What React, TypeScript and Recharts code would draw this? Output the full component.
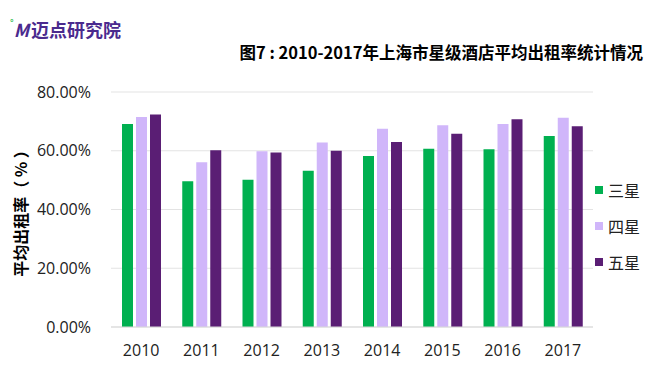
import React from 'react';
import { BarChart, Bar, XAxis, YAxis, CartesianGrid } from 'recharts';

const years = ['2010', '2011', '2012', '2013', '2014', '2015', '2016', '2017'];
const threeStar = [69.1, 49.6, 50.1, 53.2, 58.2, 60.7, 60.5, 65.0];
const fourStar = [71.5, 56.1, 59.8, 62.8, 67.5, 68.7, 69.1, 71.2];
const fiveStar = [72.3, 60.2, 59.4, 60.0, 63.0, 65.8, 70.7, 68.3];
const yTicks = [0, 20, 40, 60, 80];

const seriesNames = ['三星', '四星', '五星'];
const seriesColors = ['#00B050', '#D0B6FA', '#5A1E74'];

const data = years.map((y, i) => ({
  year: y,
  s3: threeStar[i],
  s4: fourStar[i],
  s5: fiveStar[i],
}));
const keys = ['s3', 's4', 's5'];

const font = '"Open Sans", "Noto Sans CJK SC", sans-serif';
const cjk = '"Noto Sans CJK SC", sans-serif';

export default function App() {
  return (
    <div style={{ position: 'relative', width: 650, height: 365, background: '#fff', fontFamily: font }}>
      <style>{'body{margin:0}'}</style>
      <div style={{ position: 'absolute', left: 10, top: 16, fontFamily: cjk, fontWeight: 700, fontSize: 18, color: '#4a2a8e', letterSpacing: 0 }}>
        <span style={{ color: '#3fbf5a', fontSize: 9, verticalAlign: 'top' }}>°</span>
        <span style={{ fontStyle: 'italic', marginRight: 2 }}>M</span>
        <span>迈点研究院</span>
      </div>
      <div style={{ position: 'absolute', right: 7, top: 40, fontFamily: cjk, fontWeight: 700, fontSize: 16.5, color: '#000', whiteSpace: 'nowrap' }}>
        图7 : 2010-2017年上海市星级酒店平均出租率统计情况
      </div>
      <BarChart
        width={650}
        height={365}
        data={data}
        margin={{ top: 92, right: 57, bottom: 8, left: 11 }}
        barSize={11}
        barGap={3}
      >
        <CartesianGrid vertical={false} stroke="#e3e3e3" />
        <XAxis
          dataKey="year"
          height={30}
          axisLine={{ stroke: '#d9d9d9' }}
          tickLine={false}
          tick={{ fontSize: 16, fill: '#222', fontFamily: font }}
          tickMargin={12}
        />
        <YAxis
          width={100}
          domain={[0, 80]}
          ticks={yTicks}
          axisLine={false}
          tickLine={false}
          tickMargin={14}
          tickFormatter={(v: number) => v.toFixed(2) + '%'}
          tick={{ fontSize: 16, fill: '#222', fontFamily: font }}
          label={{
            value: '平均出租率（ % ）',
            angle: -90,
            position: 'insideLeft',
            offset: 0,
            dx: 10,
            style: { fontSize: 16, fontWeight: 700, fill: '#000', fontFamily: cjk, textAnchor: 'middle' },
          }}
        />
        {keys.map((k, i) => (
          <Bar key={k} dataKey={k} name={seriesNames[i]} fill={seriesColors[i]} isAnimationActive={false} />
        ))}
      </BarChart>
      <div style={{ position: 'absolute', left: 595, top: 172 }}>
        {seriesNames.map((n, i) => (
          <div key={n} style={{ display: 'flex', alignItems: 'center', height: 36 }}>
            <span style={{ width: 8, height: 8, background: seriesColors[i], marginRight: 5 }} />
            <span style={{ fontFamily: cjk, fontSize: 16, color: '#222' }}>{n}</span>
          </div>
        ))}
      </div>
    </div>
  );
}
